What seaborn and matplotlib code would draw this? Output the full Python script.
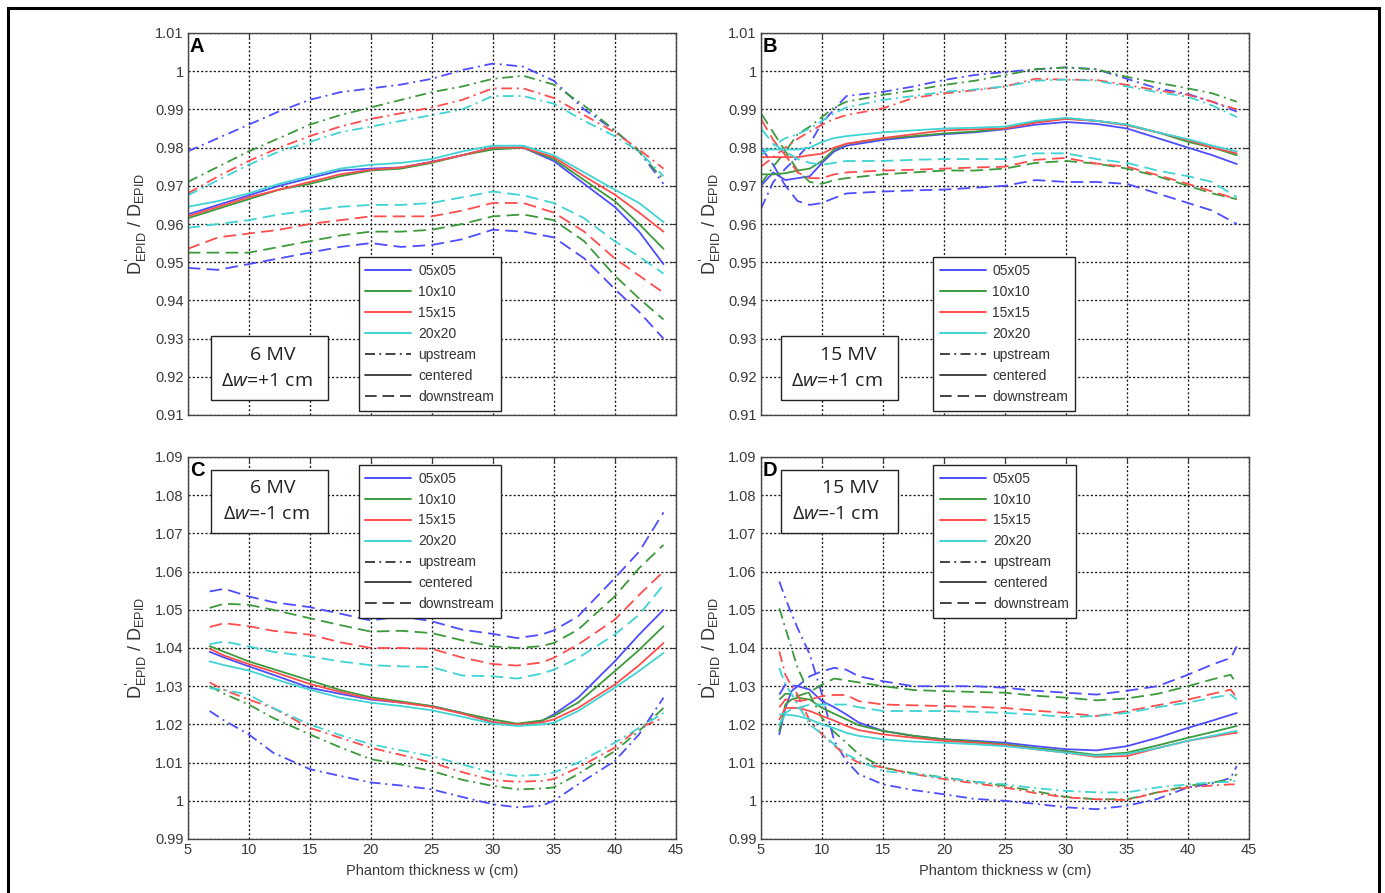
import numpy as np
import pandas as pd
import seaborn as sns
import matplotlib.pyplot as plt
from matplotlib.lines import Line2D
from matplotlib.patches import Rectangle
from matplotlib.ticker import FuncFormatter

FIELDS = ['05x05', '10x10', '15x15', '20x20']
POSITIONS = ['upstream', 'centered', 'downstream']
COLORS = {'05x05': '#4d4dff', '10x10': '#3c9a3c', '15x15': '#ff4d4d', '20x20': '#3fd3d3'}
DASHES = {'upstream': (6, 2.6, 1.1, 2.6), 'centered': '', 'downstream': (7, 3.5)}

# panel A: 6 MV, dw=+1 cm  (rows: 05x05, 10x10, 15x15, 20x20)
XA = [5, 7.5, 10, 12.5, 15, 17.5, 20, 22.5, 25, 27.5, 30, 32.5, 35, 37.5, 40, 42, 44]
A_UP = [
    [0.979, 0.9825, 0.986, 0.9895, 0.9925, 0.9945, 0.9955, 0.9965, 0.998, 1.0003, 1.002, 1.0012, 0.9975, 0.990, 0.9845, 0.979, 0.9705],
    [0.971, 0.975, 0.979, 0.9825, 0.986, 0.9885, 0.9905, 0.9925, 0.9945, 0.996, 0.998, 0.9988, 0.9965, 0.991, 0.9845, 0.979, 0.9715],
    [0.968, 0.9725, 0.9765, 0.980, 0.983, 0.9855, 0.9875, 0.989, 0.9905, 0.9925, 0.9955, 0.9955, 0.993, 0.9885, 0.984, 0.9795, 0.9745],
    [0.9675, 0.9715, 0.9755, 0.979, 0.9815, 0.984, 0.9855, 0.987, 0.9885, 0.990, 0.9935, 0.9935, 0.9915, 0.987, 0.983, 0.979, 0.9725],
]
A_CEN = [
    [0.9625, 0.965, 0.9675, 0.970, 0.972, 0.974, 0.9745, 0.9748, 0.9763, 0.978, 0.980, 0.980, 0.9765, 0.9705, 0.9645, 0.958, 0.9495],
    [0.9615, 0.964, 0.9665, 0.969, 0.9705, 0.9725, 0.974, 0.9745, 0.976, 0.978, 0.9795, 0.980, 0.977, 0.9715, 0.966, 0.960, 0.9535],
    [0.962, 0.9645, 0.967, 0.969, 0.971, 0.973, 0.9742, 0.9748, 0.9762, 0.978, 0.980, 0.980, 0.9775, 0.9725, 0.9677, 0.963, 0.958],
    [0.9645, 0.966, 0.968, 0.9705, 0.9725, 0.9745, 0.9755, 0.976, 0.977, 0.979, 0.9805, 0.9805, 0.978, 0.9735, 0.969, 0.9655, 0.9605],
]
A_DOWN = [
    [0.9485, 0.948, 0.9495, 0.951, 0.9525, 0.954, 0.955, 0.954, 0.9545, 0.956, 0.9585, 0.958, 0.9565, 0.951, 0.943, 0.937, 0.930],
    [0.9525, 0.9525, 0.9525, 0.954, 0.9555, 0.957, 0.958, 0.958, 0.9585, 0.960, 0.962, 0.9625, 0.961, 0.9555, 0.9465, 0.9405, 0.935],
    [0.9535, 0.9565, 0.9575, 0.9585, 0.960, 0.961, 0.962, 0.962, 0.962, 0.9635, 0.9655, 0.9655, 0.963, 0.958, 0.951, 0.9465, 0.942],
    [0.959, 0.960, 0.961, 0.9625, 0.9635, 0.9645, 0.965, 0.965, 0.9655, 0.967, 0.9685, 0.9675, 0.9655, 0.9615, 0.9555, 0.9515, 0.947],
]

# panel B: 15 MV, dw=+1 cm
XB = [5, 6, 7, 8, 9, 10, 11, 12, 15, 17.5, 20, 22.5, 25, 27.5, 30, 32.5, 35, 37.5, 40, 42, 44]
B_UP = [
    [0.964, 0.971, 0.9745, 0.9775, 0.981, 0.9865, 0.990, 0.9935, 0.9946, 0.996, 0.9977, 0.999, 0.9998, 1.0005, 1.001, 1.0005, 0.998, 0.9955, 0.994, 0.992, 0.9894],
    [0.9705, 0.975, 0.979, 0.9835, 0.9855, 0.988, 0.9905, 0.992, 0.9938, 0.995, 0.9964, 0.9975, 0.999, 1.0005, 1.001, 1.0005, 0.9985, 0.997, 0.9955, 0.9942, 0.992],
    [0.975, 0.9775, 0.980, 0.9823, 0.9842, 0.986, 0.9875, 0.9885, 0.9903, 0.993, 0.9942, 0.995, 0.996, 0.998, 0.9978, 0.9977, 0.9964, 0.995, 0.9938, 0.992, 0.990],
    [0.978, 0.9805, 0.9825, 0.9835, 0.985, 0.987, 0.989, 0.9905, 0.9925, 0.9935, 0.9946, 0.9952, 0.996, 0.9975, 0.9978, 0.9975, 0.996, 0.9945, 0.9933, 0.991, 0.988],
]
B_CEN = [
    [0.970, 0.9735, 0.9715, 0.972, 0.9725, 0.976, 0.979, 0.9805, 0.982, 0.9828, 0.9835, 0.984, 0.9848, 0.986, 0.9867, 0.9862, 0.985, 0.9825, 0.980, 0.978, 0.9757],
    [0.973, 0.973, 0.9733, 0.974, 0.9745, 0.9765, 0.9795, 0.981, 0.9824, 0.983, 0.9837, 0.9842, 0.985, 0.9868, 0.9876, 0.987, 0.986, 0.984, 0.9815, 0.980, 0.978],
    [0.9775, 0.9775, 0.9775, 0.9775, 0.978, 0.9784, 0.980, 0.981, 0.9825, 0.9835, 0.9845, 0.9848, 0.985, 0.9865, 0.9875, 0.987, 0.9858, 0.984, 0.982, 0.980, 0.9785],
    [0.9795, 0.9795, 0.9795, 0.9795, 0.980, 0.9815, 0.9825, 0.983, 0.984, 0.9845, 0.985, 0.9852, 0.9855, 0.987, 0.9878, 0.987, 0.986, 0.984, 0.9822, 0.9805, 0.979],
]
B_DOWN = [
    [0.980, 0.9755, 0.970, 0.966, 0.965, 0.9655, 0.9668, 0.968, 0.9685, 0.9688, 0.969, 0.9695, 0.970, 0.9715, 0.971, 0.971, 0.9705, 0.968, 0.9655, 0.9635, 0.960],
    [0.989, 0.984, 0.979, 0.974, 0.971, 0.9705, 0.9715, 0.972, 0.973, 0.9735, 0.974, 0.974, 0.9745, 0.976, 0.9765, 0.9758, 0.9745, 0.9725, 0.970, 0.968, 0.9665],
    [0.9875, 0.982, 0.978, 0.9735, 0.972, 0.972, 0.973, 0.9735, 0.974, 0.9742, 0.9745, 0.9748, 0.975, 0.9768, 0.9773, 0.9758, 0.975, 0.9728, 0.9705, 0.9685, 0.9665],
    [0.985, 0.981, 0.979, 0.977, 0.976, 0.9755, 0.976, 0.9765, 0.9765, 0.9768, 0.977, 0.977, 0.977, 0.9785, 0.9785, 0.977, 0.976, 0.974, 0.9725, 0.971, 0.967],
]

# panel C: 6 MV, dw=-1 cm
XC = [6.8, 8, 10, 12, 15, 17.5, 20, 22.5, 25, 27.5, 30, 32, 34, 35, 37, 40, 42, 44]
C_UP = [
    [1.0235, 1.021, 1.0174, 1.0126, 1.0083, 1.0065, 1.0048, 1.004, 1.003, 1.001, 0.9991, 0.9983, 0.9987, 1.000, 1.0043, 1.0104, 1.0174, 1.027],
    [1.030, 1.028, 1.0252, 1.0217, 1.0174, 1.014, 1.0109, 1.0095, 1.0078, 1.0055, 1.0039, 1.003, 1.0032, 1.0035, 1.007, 1.013, 1.0183, 1.0243],
    [1.031, 1.029, 1.0265, 1.0243, 1.0191, 1.0165, 1.0139, 1.012, 1.010, 1.0075, 1.0054, 1.005, 1.0052, 1.0057, 1.0087, 1.0139, 1.0191, 1.0217],
    [1.0295, 1.029, 1.0278, 1.0243, 1.020, 1.0172, 1.0148, 1.0132, 1.0117, 1.0095, 1.0074, 1.0065, 1.0068, 1.0074, 1.010, 1.0152, 1.0191, 1.023],
]
C_CEN = [
    [1.039, 1.0375, 1.0352, 1.033, 1.0296, 1.028, 1.0265, 1.0257, 1.0248, 1.023, 1.0206, 1.020, 1.0209, 1.0226, 1.027, 1.0365, 1.0435, 1.050],
    [1.0405, 1.039, 1.0365, 1.0345, 1.0315, 1.029, 1.0271, 1.026, 1.0248, 1.023, 1.0213, 1.0202, 1.021, 1.0222, 1.0257, 1.0339, 1.0395, 1.0457],
    [1.0398, 1.038, 1.0358, 1.0338, 1.0306, 1.0285, 1.0267, 1.0257, 1.0246, 1.0228, 1.0206, 1.020, 1.0205, 1.0213, 1.0243, 1.0304, 1.0355, 1.0413],
    [1.0365, 1.0355, 1.0341, 1.032, 1.0291, 1.027, 1.0257, 1.0248, 1.0237, 1.022, 1.0202, 1.0196, 1.020, 1.0204, 1.0235, 1.0296, 1.034, 1.0387],
]
C_DOWN = [
    [1.0548, 1.0555, 1.0535, 1.052, 1.0507, 1.049, 1.0472, 1.0483, 1.047, 1.0448, 1.0437, 1.0426, 1.0435, 1.0446, 1.0483, 1.0583, 1.0652, 1.0755],
    [1.0505, 1.0516, 1.0513, 1.050, 1.0478, 1.046, 1.0443, 1.0445, 1.0439, 1.042, 1.0404, 1.040, 1.0405, 1.0413, 1.0448, 1.0535, 1.0609, 1.067],
    [1.0455, 1.0465, 1.0457, 1.0445, 1.0435, 1.0415, 1.040, 1.040, 1.0398, 1.0375, 1.0358, 1.0354, 1.0362, 1.0374, 1.0409, 1.0474, 1.0539, 1.060],
    [1.041, 1.0417, 1.0404, 1.039, 1.0378, 1.0365, 1.0355, 1.0352, 1.035, 1.0328, 1.0326, 1.032, 1.0333, 1.0343, 1.0374, 1.0435, 1.0487, 1.0565],
]

# panel D: 15 MV, dw=-1 cm
XD = [6.5, 7, 7.5, 8, 9, 10, 11, 12, 13, 15, 17.5, 20, 22.5, 25, 27.5, 30, 32.5, 35, 37.5, 40, 42, 43.5, 44]
D_UP = [
    [1.0574, 1.053, 1.049, 1.0452, 1.0383, 1.0278, 1.0157, 1.0104, 1.007, 1.0043, 1.0028, 1.0017, 1.0005, 1.000, 0.9992, 0.9983, 0.9978, 0.9987, 1.0005, 1.0035, 1.0045, 1.006, 1.0091],
    [1.0504, 1.0452, 1.040, 1.0348, 1.0278, 1.0217, 1.018, 1.0152, 1.0122, 1.0087, 1.0072, 1.0061, 1.005, 1.0039, 1.0025, 1.001, 1.0004, 1.0004, 1.0022, 1.0039, 1.0048, 1.0055, 1.007],
    [1.0391, 1.033, 1.030, 1.0278, 1.0209, 1.0174, 1.0145, 1.0117, 1.010, 1.0087, 1.007, 1.0057, 1.0046, 1.0035, 1.002, 1.0009, 1.0004, 1.0002, 1.0022, 1.0035, 1.004, 1.0043, 1.0043],
    [1.0348, 1.0304, 1.028, 1.0252, 1.020, 1.0174, 1.0148, 1.0122, 1.0105, 1.0078, 1.007, 1.0061, 1.005, 1.0043, 1.0033, 1.0026, 1.0022, 1.0022, 1.0035, 1.0043, 1.0048, 1.005, 1.0052],
]
D_CEN = [
    [1.0174, 1.0243, 1.0287, 1.030, 1.0291, 1.0261, 1.0245, 1.0226, 1.0205, 1.0183, 1.017, 1.0161, 1.0157, 1.0152, 1.0143, 1.0135, 1.0132, 1.0143, 1.0165, 1.0191, 1.021, 1.0225, 1.023],
    [1.0183, 1.0252, 1.0265, 1.027, 1.0265, 1.0243, 1.0228, 1.0213, 1.0198, 1.0183, 1.017, 1.0161, 1.0155, 1.0148, 1.0138, 1.013, 1.012, 1.0126, 1.0145, 1.0165, 1.018, 1.0192, 1.0196],
    [1.0213, 1.0243, 1.0243, 1.0243, 1.0235, 1.0222, 1.021, 1.0196, 1.0185, 1.0174, 1.0165, 1.0157, 1.0152, 1.0146, 1.0135, 1.0126, 1.0115, 1.0117, 1.0138, 1.0157, 1.0168, 1.0176, 1.0178],
    [1.020, 1.0226, 1.0224, 1.0222, 1.0213, 1.020, 1.019, 1.0178, 1.017, 1.0161, 1.0155, 1.0152, 1.0148, 1.0143, 1.0135, 1.0126, 1.0118, 1.0123, 1.0138, 1.0157, 1.017, 1.018, 1.0183],
]
D_DOWN = [
    [1.0278, 1.0304, 1.0302, 1.030, 1.0326, 1.0339, 1.0348, 1.0343, 1.0326, 1.0313, 1.030, 1.030, 1.030, 1.0296, 1.0288, 1.0283, 1.0278, 1.0288, 1.030, 1.033, 1.0357, 1.0374, 1.0404],
    [1.0265, 1.028, 1.028, 1.0274, 1.0285, 1.0304, 1.032, 1.0315, 1.031, 1.030, 1.029, 1.0287, 1.0285, 1.0283, 1.0275, 1.027, 1.0263, 1.0268, 1.028, 1.030, 1.0318, 1.033, 1.0304],
    [1.0245, 1.0265, 1.0265, 1.0261, 1.0265, 1.0274, 1.0277, 1.0277, 1.0261, 1.0252, 1.025, 1.0248, 1.0246, 1.0243, 1.0236, 1.023, 1.0222, 1.0235, 1.025, 1.0265, 1.028, 1.0291, 1.027],
    [1.0225, 1.023, 1.024, 1.0243, 1.0252, 1.0252, 1.0252, 1.0252, 1.0245, 1.0235, 1.0235, 1.0235, 1.0233, 1.023, 1.0226, 1.0219, 1.0222, 1.023, 1.0245, 1.0257, 1.027, 1.0278, 1.0265],
]


def panel_frame(x, up, cen, down):
    rows = []
    for pos, block in zip(POSITIONS, (up, cen, down)):
        for field, vals in zip(FIELDS, block):
            for w, v in zip(x, vals):
                rows.append((w, v, field, pos))
    return pd.DataFrame(rows, columns=['w', 'ratio', 'field', 'position'])


sns.set_style('white')
plt.rcParams['font.family'] = ['Liberation Sans', 'DejaVu Sans']
plt.rcParams['mathtext.fontset'] = 'custom'
plt.rcParams['mathtext.rm'] = 'Open Sans'
plt.rcParams['mathtext.it'] = 'Open Sans:italic'

fig = plt.figure(figsize=(13.85, 8.93), dpi=100)

W, H = 1385, 893
ax_w, ax_h = 488 / W, 382 / H
positions = {
    'A': [187.7 / W, 1 - 415 / H],
    'B': [761 / W, 1 - 415 / H],
    'C': [187.7 / W, 1 - 839 / H],
    'D': [761 / W, 1 - 839 / H],
}

panels = [
    # letter, data, ylim, beam, dw, text-box x positions, legend left
    ('A', panel_frame(XA, A_UP, A_CEN, A_DOWN), (0.91, 1.01), '6 MV', '+1', (0.0475, 0.175, 0.162), 0.350),
    ('B', panel_frame(XB, B_UP, B_CEN, B_DOWN), (0.91, 1.01), '15 MV', '+1', (0.040, 0.178, 0.155), 0.352),
    ('C', panel_frame(XC, C_UP, C_CEN, C_DOWN), (0.99, 1.09), '6 MV', '-1', (0.0475, 0.175, 0.162), 0.350),
    ('D', panel_frame(XD, D_UP, D_CEN, D_DOWN), (0.99, 1.09), '15 MV', '-1', (0.040, 0.182, 0.152), 0.353),
]

ylabel = r"D$^{\text{'}}_{\mathregular{EPID}}$ / D$_{\mathregular{EPID}}$"
tick_fmt = FuncFormatter(lambda v, _: ('%.2f' % v).rstrip('0').rstrip('.'))

legend_handles = [Line2D([], [], color=COLORS[f], lw=1.4) for f in FIELDS]
legend_handles += [Line2D([], [], color='#222222', lw=1.2, dashes=DASHES['upstream']),
                   Line2D([], [], color='#222222', lw=1.2),
                   Line2D([], [], color='#222222', lw=1.2, dashes=DASHES['downstream'])]
legend_labels = FIELDS + POSITIONS

for letter, df, ylim, beam, dw, box_x, leg_left in panels:
    ax = fig.add_axes(positions[letter] + [ax_w, ax_h])
    sns.lineplot(data=df, x='w', y='ratio', hue='field', style='position',
                 hue_order=FIELDS, style_order=POSITIONS, palette=COLORS,
                 dashes=DASHES, estimator=None, sort=False, lw=1.3,
                 legend=False, ax=ax)

    ax.set_xlim(5, 45)
    ax.set_ylim(*ylim)
    ax.set_xticks(np.arange(5, 46, 5))
    ax.set_yticks(np.round(np.linspace(ylim[0], ylim[1], 11), 2))
    ax.yaxis.set_major_formatter(tick_fmt)
    ax.grid(True, color='#1a1a1a', linestyle=(0, (1.6, 1.6)), linewidth=0.95)
    ax.set_axisbelow(True)
    ax.tick_params(direction='in', length=4, width=0.8, color='#333333',
                   top=True, right=True, labelsize=10.5, labelcolor='#3a3a3a', pad=3)
    for sp in ax.spines.values():
        sp.set_color('#444444')
        sp.set_linewidth(1.0)

    ax.set_ylabel(ylabel, fontsize=13, color='#333333', labelpad=4)
    if letter in ('A', 'B'):
        ax.set_xlabel('')
        ax.tick_params(labelbottom=False)
    else:
        ax.set_xlabel('Phantom thickness w (cm)', fontsize=10.5, color='#3a3a3a', labelpad=5)

    ax.text(0.004, 0.99, letter, transform=ax.transAxes, ha='left', va='top',
            fontsize=14.5, fontweight='bold', color='black', zorder=6)

    # beam / shift text box
    if letter in ('A', 'B'):
        rect_y, rect_h, t1_y, t2_y = 0.040, 0.167, 0.157, 0.090
    else:
        rect_y, rect_h, t1_y, t2_y = 0.801, 0.165, 0.920, 0.851
    ax.add_patch(Rectangle((box_x[0], rect_y), 0.241, rect_h, transform=ax.transAxes,
                           facecolor='white', edgecolor='#222222', lw=1.0, zorder=5))
    ax.text(box_x[1], t1_y, beam, transform=ax.transAxes, ha='center', va='center',
            fontsize=14, family='Open Sans', color='#222222', zorder=6)
    ax.text(box_x[2], t2_y, r'$\Delta$$\mathit{w}$=' + dw + ' cm', transform=ax.transAxes,
            ha='center', va='center', fontsize=14, family='Open Sans',
            color='#222222', zorder=6)

    leg_top = 0.413 if letter in ('A', 'B') else 0.98
    leg = ax.legend(legend_handles, legend_labels, loc='upper left',
                    bbox_to_anchor=(leg_left, leg_top), borderaxespad=0,
                    fontsize=10, frameon=True, fancybox=False, framealpha=1,
                    edgecolor='#222222', handlelength=3.3, handletextpad=0.5,
                    labelspacing=0.5, borderpad=0.5)
    leg.get_frame().set_linewidth(1.0)
    for t in leg.get_texts():
        t.set_color('#333333')
    leg.set_zorder(7)

# outer frame of the figure
fig.add_artist(Rectangle((8 / W, -0.05), (1379 - 8) / W, 1.05 - 8 / H,
                         transform=fig.transFigure, fill=False, edgecolor='black', lw=2.2))

fig.savefig('out.png', dpi=100)
